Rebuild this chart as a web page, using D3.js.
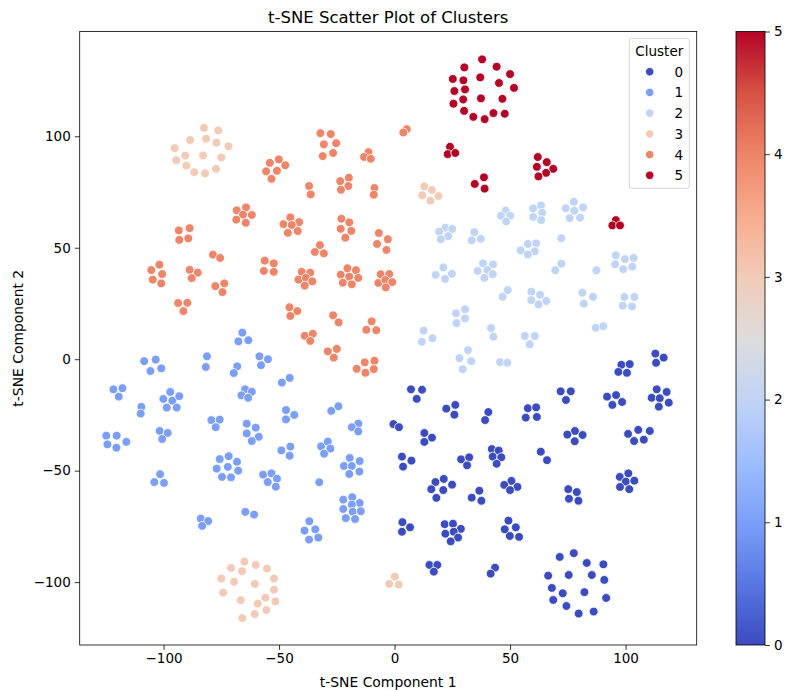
<!DOCTYPE html>
<html>
<head>
<meta charset="utf-8">
<script src="https://cdn.jsdelivr.net/npm/d3@7"></script>
<style>
  html, body { margin: 0; padding: 0; background: #fff; }
  svg { display: block; font-family: "DejaVu Sans", sans-serif; }
</style>
</head>
<body>
<svg id="chart" width="788" height="690"></svg>
<script>
// t-SNE embedding, one array of [component1, component2] per cluster
const cluster0 = [
  [7.1,-13.5],[11.9,-13.7],[9.6,-17.8],
  [26.3,-20.5],[22.4,-22.2],[25.9,-24.9],
  [40.6,-23.7],[39.2,-27.3],
  [-0.5,-29.1],[1.9,-30.5],
  [12.9,-33.1],[16.2,-35.2],[12.9,-37.1],
  [112.9,2.5],[116.5,0.7],[113.2,-1.6],
  [98.2,-2.5],[101.8,-2.2],[96.9,-5.7],[100.6,-6.1],
  [71.9,-14.4],[76.3,-14.4],[74.2,-18.3],
  [92.0,-16.8],[95.9,-16.1],[94.3,-20.5],[98.5,-19.2],
  [113.5,-13.5],[117.8,-14.7],[111.3,-17.3],[114.8,-17.5],[118.7,-19.5],[114.4,-21.3],
  [57.7,-22.0],[61.3,-21.6],[56.8,-26.2],[61.6,-25.9],
  [78.1,-32.2],[74.8,-33.8],[81.4,-34.0],[78.0,-36.8],
  [105.5,-31.7],[101.1,-33.5],[110.5,-32.2],[103.7,-36.7],[107.9,-36.1],
  [42.1,-40.3],[45.1,-41.0],[42.5,-43.7],[46.2,-44.0],[44.2,-46.9],
  [63.3,-41.5],[66.0,-45.3],
  [50.6,-54.6],[47.5,-56.4],[53.2,-57.3],[50.0,-58.7],
  [75.2,-58.3],[78.9,-59.6],[75.5,-62.6],[79.6,-63.5],
  [101.2,-51.2],[97.5,-52.8],[100.1,-54.9],[103.8,-54.5],[97.6,-57.3],[101.6,-58.3],
  [49.3,-72.4],[47.7,-76.3],[52.5,-75.4],[49.9,-79.3],[53.9,-79.7],
  [43.5,-93.5],[41.6,-96.2],
  [77.6,-87.0],[71.5,-88.7],[83.2,-91.4],[90.4,-92.0],[66.5,-97.1],[75.4,-96.8],
  [85.4,-96.8],[90.8,-99.0],[68.1,-102.6],[72.8,-105.0],[82.2,-104.5],[91.6,-107.1],
  [68.7,-108.0],[74.4,-110.7],[86.2,-113.2],[79.7,-114.1],
  [3.2,-43.7],[7.3,-45.5],[3.7,-48.2],
  [28.8,-44.9],[32.3,-44.0],[31.4,-47.6],
  [17.7,-55.1],[21.3,-53.7],[24.9,-56.3],[15.9,-58.3],[21.1,-58.7],[18.1,-62.2],
  [36.7,-59.0],[33.4,-62.1],[37.6,-63.5],
  [3.4,-73.1],[6.7,-75.4],[3.2,-77.4],
  [21.7,-74.0],[25.3,-73.8],[28.7,-76.1],[22.0,-78.3],[25.6,-77.4],[27.5,-80.0],[24.3,-81.7],
  [15.1,-92.3],[18.5,-92.3],[17.0,-95.3]
];

const cluster1 = [
  [-65.9,11.9],[-67.6,8.0],[-63.3,8.5],
  [-108.4,-0.9],[-103.4,-0.2],[-105.7,-5.3],[-101.0,-4.1],
  [-81.2,1.3],[-81.7,-3.5],
  [-68.1,-3.2],[-69.6,-6.2],
  [-58.5,1.3],[-54.8,0.0],[-57.8,-2.7],
  [-121.7,-13.5],[-117.8,-13.0],[-119.4,-16.8],
  [-97.1,-14.7],[-100.1,-17.8],[-96.2,-18.6],[-93.2,-16.6],[-98.6,-21.7],[-94.3,-21.7],
  [-109.6,-21.4],[-109.9,-24.4],
  [-64.7,-13.5],[-61.8,-14.6],[-66.3,-16.2],[-63.4,-17.3],
  [-48.8,-10.5],[-45.4,-8.4],
  [-47.0,-22.8],[-43.4,-25.0],[-47.0,-27.0],
  [-79.3,-27.3],[-75.7,-27.1],[-77.4,-30.5],
  [-64.0,-28.9],[-60.1,-30.7],[-64.0,-33.3],[-58.8,-34.8],[-61.8,-36.7],
  [-101.7,-32.2],[-98.2,-33.1],[-100.6,-35.8],
  [-124.8,-34.3],[-120.3,-34.3],[-124.3,-38.2],[-120.4,-39.7],[-116.1,-37.1],
  [-24.3,-21.1],[-27.4,-23.2],
  [-15.7,-28.9],[-18.5,-30.5],[-15.7,-32.4],
  [-49.0,-40.9],[-45.1,-39.2],[-45.4,-43.3],
  [-31.8,-39.1],[-28.9,-37.0],[-27.8,-40.1],[-30.5,-42.4],
  [-19.4,-44.3],[-15.1,-45.7],[-21.9,-47.9],[-18.5,-47.9],[-15.2,-50.4],[-19.6,-51.5],
  [-32.6,-55.2],
  [-18.3,-61.9],[-22.2,-63.0],[-15.1,-64.5],[-18.5,-65.2],[-22.2,-67.2],[-18.1,-68.4],
  [-14.6,-68.2],[-21.1,-71.3],[-17.1,-71.7],
  [-36.9,-72.7],[-39.0,-76.9],[-34.3,-76.3],[-37.0,-80.9],[-33.0,-80.0],
  [-75.7,-44.8],[-71.8,-43.5],[-68.2,-46.0],[-77.0,-49.1],[-72.2,-48.3],[-67.7,-50.0],
  [-74.7,-52.8],[-70.8,-53.0],
  [-101.5,-51.6],[-104.0,-55.1],[-99.8,-55.5],
  [-56.9,-51.8],[-53.3,-51.2],[-50.9,-53.6],[-54.9,-55.1],[-51.4,-57.2],
  [-64.6,-68.5],[-60.8,-69.7],
  [-83.9,-71.5],[-80.7,-72.6],[-83.3,-74.8]
];

const cluster2 = [
  [21.9,59.0],[25.0,58.4],[19.3,57.2],[23.2,55.2],[20.0,53.8],
  [34.5,57.0],[37.3,54.0],[33.4,53.3],
  [38.3,43.0],[42.6,42.5],[36.0,39.6],[40.2,40.0],[42.5,38.1],[38.9,36.5],
  [21.1,41.2],[17.8,37.8],[24.8,38.3],[21.9,36.0],
  [30.5,22.4],[26.6,20.6],[30.5,18.3],[26.8,16.2],
  [12.6,12.8],[11.8,7.8],[16.4,9.4],
  [41.8,13.9],[42.8,10.1],
  [31.8,4.1],[28.1,0.5],[33.2,-0.9],[29.5,-4.5],
  [48.1,66.6],[46.1,64.3],[50.1,64.3],[48.3,61.8],
  [60.0,67.7],[63.4,69.0],[63.9,65.7],[60.0,63.8],[63.5,62.4],
  [77.6,70.6],[74.1,67.7],[77.8,66.6],[81.6,68.1],[75.8,63.3],[80.3,63.5],
  [72.2,54.3],
  [57.7,51.7],[61.3,52.0],[54.6,48.8],[60.7,48.4],[57.7,47.0],
  [72.2,42.8],[69.6,39.9],
  [87.4,39.9],
  [95.8,46.6],[99.7,44.9],[103.5,45.4],[95.5,42.6],[99.0,40.4],[102.9,41.5],
  [49.0,31.0],[46.8,28.0],
  [59.2,30.3],[63.0,28.9],[59.2,26.5],[65.7,26.1],[62.3,24.6],
  [81.3,29.8],[85.9,28.0],[81.9,24.9],
  [99.5,27.9],[103.8,27.9],[98.8,24.0],[102.8,23.7],
  [56.4,10.4],[60.7,10.4],[58.5,6.7],
  [87.1,14.1],[90.4,14.8],
  [45.7,-1.3],[48.8,-1.6]
];

const cluster3 = [
  [-82.5,103.8],[-76.3,102.6],[-88.5,98.3],[-81.6,98.9],[-77.1,97.1],[-71.9,95.5],
  [-95.2,94.7],[-90.6,91.3],[-82.9,91.4],[-75.0,90.5],[-94.5,89.3],[-90.1,86.8],
  [-86.7,83.9],[-82.0,83.4],[-77.3,85.4],
  [12.9,77.5],[16.2,75.9],[12.0,73.5],[19.0,73.2],[15.5,71.1],
  [-65.0,-90.8],[-70.8,-93.6],[-66.0,-95.1],[-60.1,-92.3],[-55.2,-93.9],[-75.0,-98.4],
  [-69.5,-99.8],[-60.5,-100.8],[-52.2,-98.4],[-74.2,-104.7],[-52.2,-103.4],[-55.9,-107.0],
  [-66.6,-108.1],[-59.2,-109.6],[-51.6,-108.6],[-55.5,-112.5],[-60.5,-114.3],[-65.9,-116.1],
  [0.1,-97.5],[-2.3,-100.8],[1.8,-101.1]
];

const cluster4 = [
  [-54.0,88.1],[-50.1,89.6],[-47.3,87.0],[-55.6,84.3],[-50.9,84.5],[-53.3,80.9],
  [-68.3,66.8],[-64.3,68.1],[-65.6,64.8],[-61.8,64.7],[-68.5,62.6],[-64.4,61.2],
  [-48.1,60.6],[-45.1,63.6],[-41.3,61.5],[-44.5,60.2],[-41.9,57.5],[-46.2,56.7],
  [-93.4,57.8],[-88.7,58.8],[-93.2,53.5],[-89.3,54.2],
  [-32.1,101.4],[-27.6,101.0],[-30.6,96.4],[-25.3,96.9],[-31.1,91.1],[-26.6,92.5],
  [5.3,103.2],[3.8,101.7],
  [-11.3,92.9],[-13.2,90.7],[-10.3,89.9],
  [-19.8,81.4],[-23.5,79.9],[-20.0,77.7],[-23.2,76.0],
  [-37.0,77.7],[-36.3,73.9],
  [-8.7,76.8],[-9.0,73.8],
  [-23.0,63.0],[-19.6,61.4],[-23.3,58.5],[-18.7,57.6],[-21.3,54.5],
  [-6.8,56.6],[-2.9,53.8],[-7.6,51.7],[-3.5,49.0],
  [-78.6,46.9],[-75.5,45.4],
  [-101.8,42.4],[-105.3,40.0],[-100.6,38.2],[-104.7,35.7],[-101.0,34.0],
  [-88.7,40.1],[-85.2,38.8],[-87.8,36.4],
  [-56.2,44.2],[-52.3,43.0],[-56.6,39.6],[-52.3,39.2],
  [-73.7,34.0],[-77.6,32.8],[-74.5,30.1],
  [-93.7,25.2],[-89.7,25.3],[-91.4,21.6],
  [-45.5,23.3],[-42.1,21.6],[-45.1,19.4],
  [-32.3,51.2],[-34.5,48.1],[-30.6,47.5],
  [-40.2,39.2],[-36.5,38.8],[-41.6,35.7],[-38.4,36.5],[-35.6,34.9],[-38.9,33.0],
  [-20.4,40.8],[-16.7,39.9],[-23.3,37.9],[-19.6,37.0],[-15.7,36.5],[-22.4,34.3],[-18.5,33.6],
  [-6.0,38.1],[-2.3,38.2],[-7.0,34.2],[-4.0,35.5],[-1.0,34.6],[-3.8,32.2],
  [-26.6,19.7],[-24.2,16.5],
  [-9.9,17.0],[-12.2,13.2],[-7.9,13.0],
  [-38.9,10.5],[-35.4,11.4],[-36.5,8.2],
  [-25.0,4.6],[-28.9,3.5],[-26.3,0.7],
  [-12.9,-1.4],[-8.7,-0.7],[-16.4,-4.3],[-12.6,-6.1],[-9.0,-4.4]
];

const cluster5 = [
  [37.9,134.5],[30.2,130.9],[44.2,131.2],[50.0,127.9],[25.2,125.7],[29.8,125.1],
  [37.1,126.4],[45.2,123.9],[51.7,121.7],[25.9,120.3],[30.5,121.0],[29.7,116.5],
  [37.4,117.0],[46.7,116.8],[25.5,114.6],[30.1,111.4],[34.1,108.7],[39.0,107.7],
  [42.8,110.4],[47.7,110.1],
  [24.0,95.3],[23.0,92.0],[26.3,92.5],
  [38.7,81.6],[34.7,78.6],[39.0,76.5],
  [62.0,90.7],[65.9,88.4],[61.6,86.3],[68.7,85.4],[65.6,83.6],[62.3,82.0],
  [95.8,62.4],[94.3,60.0],[97.6,60.0]
];

const clusterSets = [cluster0, cluster1, cluster2, cluster3, cluster4, cluster5];
const clusterLabels = ["0", "1", "2", "3", "4", "5"];

const xTicks = [-100, -50, 0, 50, 100];
const yTicks = [-100, -50, 0, 50, 100];
const colorbarTicks = [0, 1, 2, 3, 4, 5];

// coolwarm colormap samples (0 → 1)
const coolwarmStops = ["#3b4cc0", "#5977e3", "#7b9ff9", "#9ebeff", "#c0d4f5",
                       "#dddcdc", "#f2cbb7", "#f7ac8e", "#ee8468", "#d65244", "#b40426"];

const coolwarm = d3.scaleLinear()
  .domain(coolwarmStops.map((_, i) => i / (coolwarmStops.length - 1)))
  .range(coolwarmStops)
  .interpolate(d3.interpolateRgb);

const hue = d3.scaleLinear().domain([0, 5]).range([0, 1]);
const clusterColor = k => coolwarm(hue(k));

const TICK_FONT = 13.5;
const LABEL_FONT = 13.9;
const TITLE_FONT = 16.5;

const svg = d3.select("#chart");

const plot = { left: 79.7, right: 696.7, top: 31.5, bottom: 645 };

const x = d3.scaleLinear().domain([-136.3, 130.8]).range([plot.left, plot.right]);
const y = d3.scaleLinear().domain([-128.2, 147.0]).range([plot.bottom, plot.top]);

// title
svg.append("text")
  .attr("x", (plot.left + plot.right) / 2)
  .attr("y", 23)
  .attr("text-anchor", "middle")
  .attr("font-size", TITLE_FONT)
  .attr("fill", "#000")
  .text("t-SNE Scatter Plot of Clusters");

// points
const points = svg.append("g");
clusterSets.forEach((pts, k) => {
  points.selectAll(null)
    .data(pts)
    .enter()
    .append("circle")
    .attr("cx", d => x(d[0]))
    .attr("cy", d => y(d[1]))
    .attr("r", 4.4)
    .attr("fill", clusterColor(k))
    .attr("stroke", "#fff")
    .attr("stroke-width", 0.8);
});

// axes
const fmt = d => d < 0 ? "\u2212" + Math.abs(d) : String(d);
const xAxis = svg.append("g")
  .attr("transform", `translate(0,${plot.bottom})`)
  .call(d3.axisBottom(x).tickValues(xTicks).tickSize(4.9).tickPadding(4).tickFormat(fmt));
const yAxis = svg.append("g")
  .attr("transform", `translate(${plot.left},0)`)
  .call(d3.axisLeft(y).tickValues(yTicks).tickSize(4.9).tickPadding(4).tickFormat(fmt));

[xAxis, yAxis].forEach(g => {
  g.select(".domain").remove();
  g.selectAll(".tick line").attr("stroke", "#000").attr("stroke-width", 0.8);
  g.selectAll(".tick text")
    .attr("font-size", TICK_FONT)
    .attr("fill", "#000")
    .attr("font-family", "DejaVu Sans, sans-serif");
});

// frame
svg.append("rect")
  .attr("x", plot.left).attr("y", plot.top)
  .attr("width", plot.right - plot.left).attr("height", plot.bottom - plot.top)
  .attr("fill", "none").attr("stroke", "#000").attr("stroke-width", 0.8);

// axis labels
svg.append("text")
  .attr("x", (plot.left + plot.right) / 2)
  .attr("y", 687)
  .attr("text-anchor", "middle")
  .attr("font-size", LABEL_FONT)
  .text("t-SNE Component 1");
svg.append("text")
  .attr("transform", `translate(23,${(plot.top + plot.bottom) / 2}) rotate(-90)`)
  .attr("text-anchor", "middle")
  .attr("font-size", LABEL_FONT)
  .text("t-SNE Component 2");

// legend
const legend = svg.append("g");
legend.append("rect")
  .attr("x", 629.3).attr("y", 38.3)
  .attr("width", 60).attr("height", 150)
  .attr("rx", 2.5)
  .attr("fill", "#fff").attr("fill-opacity", 0.8)
  .attr("stroke", "#ccc").attr("stroke-width", 0.8);
legend.append("text")
  .attr("x", 659.3).attr("y", 55.5)
  .attr("text-anchor", "middle")
  .attr("font-size", TICK_FONT)
  .text("Cluster");
clusterLabels.forEach((lab, k) => {
  const cy = 71.7 + k * 20.72;
  legend.append("circle")
    .attr("cx", 649.7).attr("cy", cy).attr("r", 4.2)
    .attr("fill", clusterColor(k))
    .attr("stroke", "#fff").attr("stroke-width", 0.8);
  legend.append("text")
    .attr("x", 674.5).attr("y", cy + 5)
    .attr("font-size", TICK_FONT)
    .text(lab);
});

// colorbar
const cb = { left: 736, right: 765 };
const defs = svg.append("defs");
const grad = defs.append("linearGradient")
  .attr("id", "cbgrad")
  .attr("x1", 0).attr("y1", 1).attr("x2", 0).attr("y2", 0);
coolwarmStops.forEach((c, i) => {
  grad.append("stop")
    .attr("offset", i / (coolwarmStops.length - 1))
    .attr("stop-color", c);
});
const cbScale = d3.scaleLinear().domain([0, 5]).range([plot.bottom, plot.top]);
svg.append("rect")
  .attr("x", cb.left).attr("y", plot.top)
  .attr("width", cb.right - cb.left).attr("height", plot.bottom - plot.top)
  .attr("fill", "url(#cbgrad)")
  .attr("stroke", "#000").attr("stroke-width", 0.8);
const cbAxis = svg.append("g")
  .attr("transform", `translate(${cb.right},0)`)
  .call(d3.axisRight(cbScale).tickValues(colorbarTicks).tickSize(4.9).tickPadding(4)
    .tickFormat(d3.format("d")));
cbAxis.select(".domain").remove();
cbAxis.selectAll(".tick line").attr("stroke", "#000").attr("stroke-width", 0.8);
cbAxis.selectAll(".tick text")
  .attr("font-size", TICK_FONT)
  .attr("fill", "#000")
  .attr("font-family", "DejaVu Sans, sans-serif");
</script>
</body>
</html>
